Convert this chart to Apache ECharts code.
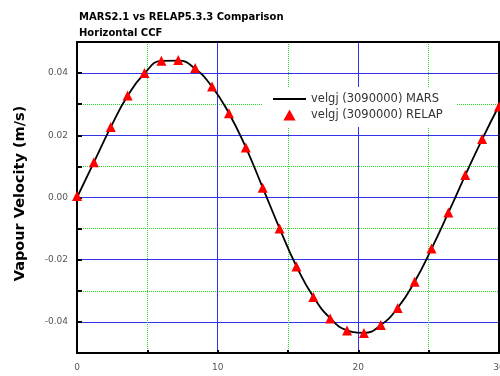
<!DOCTYPE html>
<html><head><meta charset="utf-8">
<script src="https://cdn.jsdelivr.net/npm/echarts@6/dist/echarts.min.js"></script>
<style>html,body{margin:0;padding:0;background:#fff}#c{width:500px;height:376px}</style>
</head><body><div id="c"></div>
<script>
const titleText = 'MARS2.1 vs RELAP5.3.3 Comparison\nHorizontal CCF';
const yName = 'Vapour Velocity (m/s)';
const marsName = 'velgj (3090000) MARS';
const relapName = 'velgj (3090000) RELAP';
const xRange = [0, 30];
const yRange = [-0.05, 0.05];
const xTickLabels = [0, 10, 20, 30];
const yTickLabels = [-0.04, -0.02, 0.00, 0.02, 0.04];
const timeX = [0,1.2,2.4,3.6,4.8,6.0,7.2,8.4,9.6,10.8,12.0,13.2,14.4,15.6,16.8,18.0,19.2,20.4,21.6,22.8,24.0,25.2,26.4,27.6,28.8,30.0];
const relapY = [0.0005,0.0113,0.0227,0.0328,0.0400,0.0440,0.0442,0.0416,0.0357,0.0271,0.0161,0.0031,-0.0100,-0.0222,-0.0320,-0.0389,-0.0428,-0.0436,-0.0410,-0.0355,-0.0271,-0.0164,-0.0048,0.0072,0.0188,0.0293];
const marsY = [0.0000,0.0113,0.0226,0.0327,0.0399,0.0439,0.0440,0.0414,0.0356,0.0271,0.0161,0.0032,-0.0099,-0.0221,-0.0319,-0.0388,-0.0427,-0.0435,-0.0410,-0.0355,-0.0271,-0.0165,-0.0049,0.0071,0.0187,0.0295];

const BLUE = '#3333ee', GREEN = '#22dd22';
const noEnds = {showMinLine:false, showMaxLine:false};
const chart = echarts.init(document.getElementById('c'), null, {renderer:'canvas'});
chart.setOption({
  animation:false,
  backgroundColor:'#fff',
  title:{text:titleText,left:74,top:4,textStyle:{fontFamily:'DejaVu Sans',fontSize:10,fontWeight:'bold',color:'#000',lineHeight:16}},
  grid:{left:77,right:1,top:42,bottom:23,containLabel:false,outerBoundsMode:'none'},
  legend:{
    orient:'vertical',left:263,top:87,padding:[6,14,6,10],itemGap:4,itemWidth:33,itemHeight:11,
    backgroundColor:'#fff',symbolKeepAspect:true,z:10,
    textStyle:{fontFamily:'DejaVu Sans',fontSize:11.5,color:'#333'},
    data:[{name:marsName,icon:'path://M0,0 H33 V2 H0 Z',itemStyle:{color:'#000'}},
          {name:relapName,icon:'path://M5,0 L10,9 L0,9 Z',itemStyle:{color:'#ff0000'}}]
  },
  xAxis:[
    {type:'value',min:xRange[0],max:xRange[1],interval:5,position:'bottom',
     axisLine:{show:true,onZero:false,lineStyle:{color:'#000',width:2}},
     axisTick:{show:true,inside:true,length:3,lineStyle:{color:'#000',width:2}},
     axisLabel:{fontFamily:'DejaVu Sans',fontSize:9,color:'#555',margin:10,
       formatter:v=>xTickLabels.includes(v)?String(v):''},
     splitLine:Object.assign({show:true,lineStyle:{color:GREEN,type:'dotted',width:1}},noEnds)},
    {type:'value',min:xRange[0],max:xRange[1],interval:10,position:'top',
     axisLine:{show:true,onZero:false,lineStyle:{color:'#000',width:2}},
     axisTick:{show:false},axisLabel:{show:false},
     splitLine:Object.assign({show:true,lineStyle:{color:BLUE,type:'solid',width:1}},noEnds)}
  ],
  yAxis:[
    {type:'value',min:yRange[0],max:yRange[1],interval:0.01,position:'left',
     name:yName,nameLocation:'middle',nameGap:49,
     nameTextStyle:{fontFamily:'DejaVu Sans',fontSize:14.5,fontWeight:'bold',color:'#000',padding:[0,0,0,8]},
     axisLine:{show:true,onZero:false,lineStyle:{color:'#000',width:2}},
     axisTick:{show:true,inside:true,length:5,lineStyle:{color:'#000',width:2}},
     axisLabel:{fontFamily:'DejaVu Sans',fontSize:9,color:'#555',margin:9,
       formatter:v=>{const r=Math.round(v*100)/100;return (Math.abs(v-r)<1e-9&&yTickLabels.some(t=>Math.abs(t-r)<1e-9))?r.toFixed(2):'';}},
     splitLine:Object.assign({show:true,lineStyle:{color:BLUE,type:'solid',width:1}},noEnds)},
    {type:'value',min:yRange[0],max:yRange[1],interval:0.02,position:'right',
     axisLine:{show:true,onZero:false,lineStyle:{color:'#000',width:2}},
     axisTick:{show:false},axisLabel:{show:false},
     splitLine:Object.assign({show:true,lineStyle:{color:'#ffffff',type:'solid',width:1}},noEnds)},
    {type:'value',min:yRange[0],max:yRange[1],interval:0.02,position:'right',
     axisLine:{show:false},axisTick:{show:false},axisLabel:{show:false},
     splitLine:Object.assign({show:true,lineStyle:{color:GREEN,type:'dotted',width:1}},noEnds)}
  ],
  series:[
    {name:marsName,type:'line',symbol:'none',smooth:0.5,z:3,
     lineStyle:{color:'#000',width:1.8},itemStyle:{color:'#000'},
     data:timeX.map((x,i)=>[x,marsY[i]])},
    {name:relapName,type:'scatter',symbol:'triangle',symbolSize:10,z:4,
     itemStyle:{color:'#ff0000',opacity:1},clip:false,
     data:timeX.map((x,i)=>[x,relapY[i]])}
  ]
});
</script></body></html>
